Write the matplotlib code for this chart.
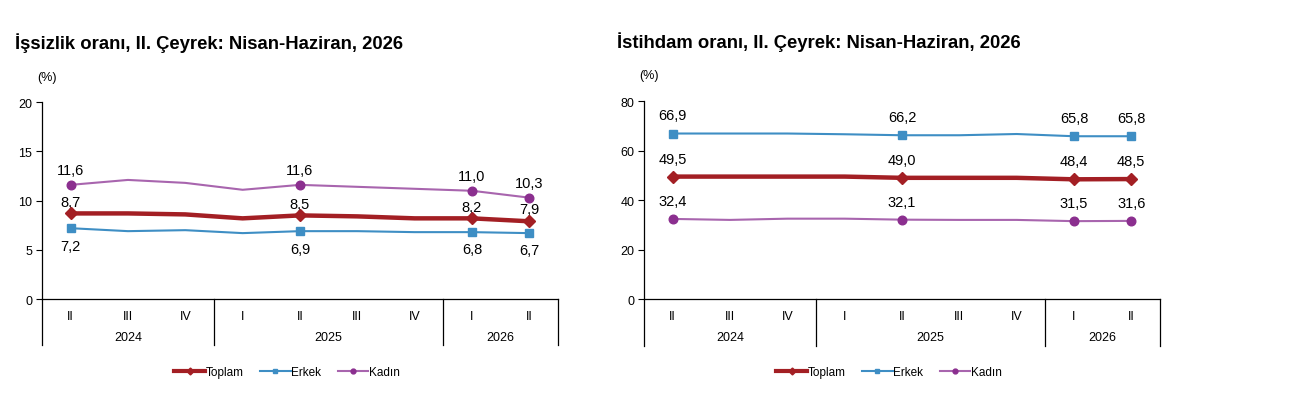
import matplotlib.pyplot as plt
from matplotlib.lines import Line2D
from matplotlib.transforms import blended_transform_factory

plt.rcParams['font.family'] = ['Liberation Sans', 'DejaVu Sans']

quarters = ['II', 'III', 'IV', 'I', 'II', 'III', 'IV', 'I', 'II']
years = ['2024', '2025', '2026']
year_spans = [(0, 2), (3, 6), (7, 8)]
labelled = [0, 4, 7, 8]

# işsizlik orani
unemp_total = [8.7, 8.7, 8.6, 8.2, 8.5, 8.4, 8.2, 8.2, 7.9]
unemp_male = [7.2, 6.9, 7.0, 6.7, 6.9, 6.9, 6.8, 6.8, 6.7]
unemp_female = [11.6, 12.1, 11.8, 11.1, 11.6, 11.4, 11.2, 11.0, 10.3]

# istihdam orani
emp_total = [49.5, 49.5, 49.5, 49.5, 49.0, 49.0, 49.0, 48.4, 48.5]
emp_male = [66.9, 66.9, 66.9, 66.6, 66.2, 66.2, 66.7, 65.8, 65.8]
emp_female = [32.4, 32.0, 32.5, 32.5, 32.1, 32.0, 32.0, 31.5, 31.6]

c_total = '#A31F24'
c_male = '#3E8EC4'
c_female_line = '#A865AE'
c_female = '#8B2F8F'


def fmt(v):
    return ('%.1f' % v).replace('.', ',')


def draw(ax, total, male, female, ymax, step, title, offsets):
    off_f, off_t, off_m = offsets
    x = list(range(len(quarters)))
    ax.plot(x, female, color=c_female_line, lw=1.5, zorder=2)
    ax.plot(x, male, color=c_male, lw=1.5, zorder=2)
    ax.plot(x, total, color=c_total, lw=3.2, zorder=3)
    ax.plot([x[i] for i in labelled], [female[i] for i in labelled], 'o',
            color=c_female, ms=6.2, zorder=4)
    ax.plot([x[i] for i in labelled], [male[i] for i in labelled], 's',
            color=c_male, ms=5.6, zorder=4)
    ax.plot([x[i] for i in labelled], [total[i] for i in labelled], 'D',
            color=c_total, ms=5.8, zorder=5)
    for i in labelled:
        ax.annotate(fmt(female[i]), (i, female[i]), xytext=(0, off_f),
                    textcoords='offset points', ha='center', va='center', fontsize=10.5)
        ax.annotate(fmt(total[i]), (i, total[i]), xytext=(0, off_t),
                    textcoords='offset points', ha='center', va='center', fontsize=10.5)
        ax.annotate(fmt(male[i]), (i, male[i]), xytext=(0, off_m),
                    textcoords='offset points', ha='center', va='center', fontsize=10.5)

    ax.set_xlim(-0.5, len(quarters) - 0.5)
    ax.set_ylim(0, ymax)
    ax.set_yticks(range(0, ymax + 1, step))
    ax.tick_params(axis='y', labelsize=9, length=4, width=0.8, pad=3)
    ax.set_xticks([])
    for s in ['top', 'right']:
        ax.spines[s].set_visible(False)
    for s in ['left', 'bottom']:
        ax.spines[s].set_linewidth(0.9)

    tr = blended_transform_factory(ax.transData, ax.transAxes)
    for i, q in enumerate(quarters):
        ax.text(i, -0.085, q, transform=tr, ha='center', va='center', fontsize=9)
    for (a, b), yr in zip(year_spans, years):
        ax.text((a + b) / 2, -0.19, yr, transform=tr, ha='center', va='center', fontsize=9)
    for sx in [-0.5, 2.5, 6.5, 8.5]:
        ax.plot([sx, sx], [0, -0.235], transform=tr, color='black', lw=0.9, clip_on=False)

    ax.text(-0.01, 1.13, '(%)', transform=ax.transAxes, ha='left', va='center', fontsize=9)
    ax.text(-0.052, 1.305, title, transform=ax.transAxes, ha='left', va='center',
            fontsize=13.3, fontweight='bold')

    handles = [
        Line2D([], [], color=c_total, lw=3, marker='D', ms=3.5),
        Line2D([], [], color=c_male, lw=1.5, marker='s', ms=3.5),
        Line2D([], [], color=c_female_line, lw=1.5, marker='o', ms=3.5, mfc=c_female, mec=c_female),
    ]
    ax.legend(handles, ['Toplam', 'Erkek', 'Kadın'], loc='center',
              bbox_to_anchor=(0.475, -0.37), ncol=3, frameon=False, fontsize=8.5,
              handlelength=2.6, handletextpad=0.05, columnspacing=1.4)


fig = plt.figure(figsize=(12.91, 4.10), dpi=100)
ax1 = fig.add_axes([0.0325, 0.268, 0.3997, 0.4805])
ax2 = fig.add_axes([0.4988, 0.268, 0.3997, 0.4830])

draw(ax1, unemp_total, unemp_male, unemp_female, 20, 5,
     'İşsizlik oranı, II. Çeyrek: Nisan-Haziran, 2026', (10.5, 8.5, -12.5))
draw(ax2, emp_total, emp_male, emp_female, 80, 20,
     'İstihdam oranı, II. Çeyrek: Nisan-Haziran, 2026', (13, 13, 13))

fig.savefig('out.png', dpi=100)
